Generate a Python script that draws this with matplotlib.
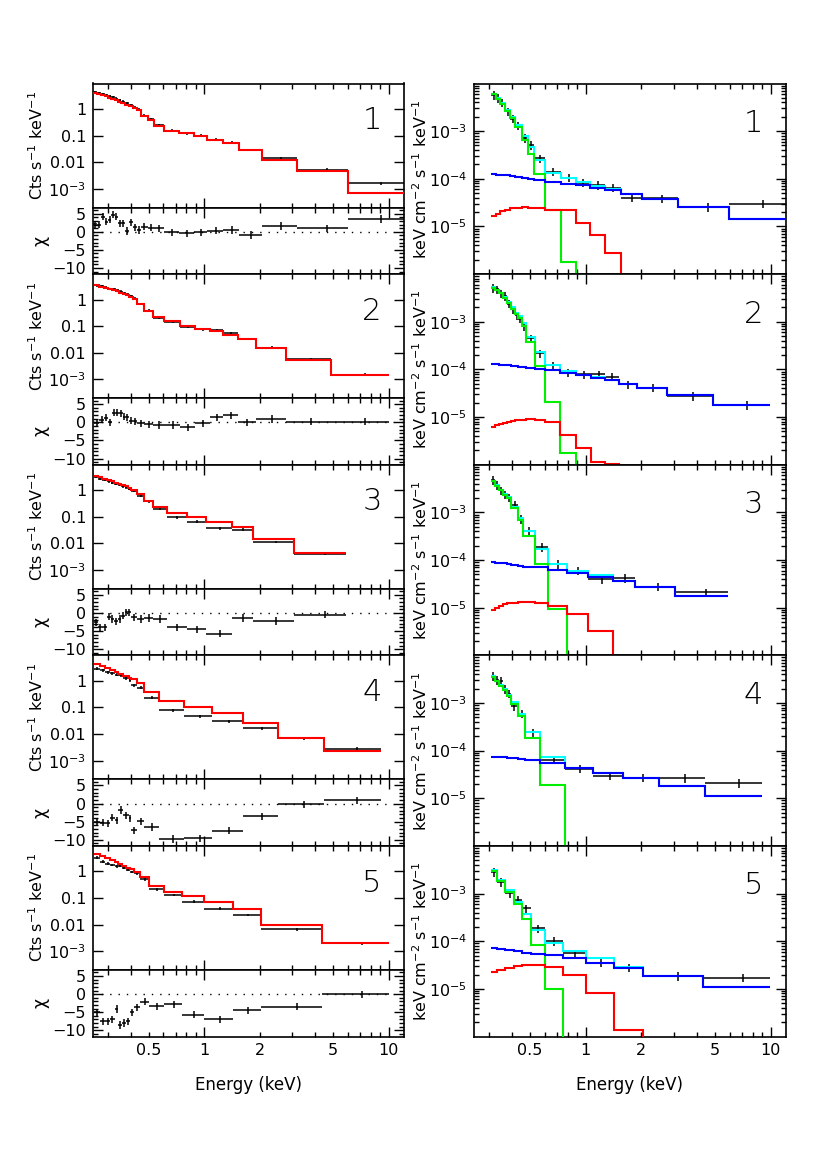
import matplotlib.pyplot as plt
import numpy as np
from matplotlib.ticker import FixedLocator, FuncFormatter, MultipleLocator, LogLocator, NullFormatter

plt.rcParams['font.family'] = 'DejaVu Sans'
plt.rcParams['mathtext.default'] = 'regular'

OFF = 1e-9  # component has dropped out of the plotted range

# ---------------- row 1 ----------------
cts_edges_1 = [0.25, 0.262, 0.275, 0.288, 0.30, 0.313, 0.326, 0.34, 0.355, 0.37, 0.39, 0.41, 0.43,
               0.451, 0.494, 0.532, 0.608, 0.726, 0.883, 1.04, 1.27, 1.55, 2.05, 3.17, 6.03, 12.05]
cts_data_1 = [4.2, 3.9, 3.6, 3.3, 3.0, 2.7, 2.45, 2.15, 1.9, 1.6, 1.38, 1.12, 0.93,
              0.56, 0.42, 0.25, 0.152, 0.123, 0.099, 0.071, 0.054, 0.029, 0.0143, 5.2e-3, 1.6e-3]
cts_model_1 = [3.98, 3.65, 3.25, 2.98, 2.66, 2.37, 2.11, 1.88, 1.67, 1.45, 1.26, 1.05, 0.887,
               0.528, 0.396, 0.235, 0.153, 0.125, 0.099, 0.070, 0.0525, 0.0295, 0.0124, 4.5e-3, 6.9e-4]
chi_1 = [2.1, 2.0, 4.2, 2.8, 3.3, 4.7, 4.2, 2.3, 2.3, 0.2, 2.6, 1.2, 0.5,
         1.4, 1.1, 1.0, -0.2, -0.4, -0.2, 0.3, 0.5, -0.9, 1.6, 0.9, 3.5]
uf_edges_1 = [0.308, 0.327, 0.344, 0.366, 0.39, 0.415, 0.451, 0.49, 0.526, 0.603, 0.733, 0.883,
              1.05, 1.27, 1.55, 2.02, 3.16, 5.97, 12.1]
uf_data_1 = [5.7e-3, 4.9e-3, 3.98e-3, 2.6e-3, 1.82e-3, 1.32e-3, 7.1e-4, 5.1e-4, 2.67e-4, 1.40e-4,
             1.06e-4, 8.3e-5, 7.4e-5, 6.5e-5, 4.0e-5, 3.86e-5, 2.53e-5, 3.03e-5]
uf_total_1 = [6.04e-3, 4.94e-3, 3.94e-3, 2.74e-3, 2.02e-3, 1.35e-3, 7.9e-4, 4.56e-4, 2.44e-4, 1.31e-4,
              1.03e-4, 8.5e-5, 7.2e-5, 6.0e-5, 4.7e-5, 3.68e-5, 2.53e-5, 1.46e-5]
uf_soft_1 = [5.9e-3, 4.8e-3, 3.8e-3, 2.6e-3, 1.88e-3, 1.21e-3, 6.6e-4, 3.3e-4, 1.25e-4, 2.26e-5,
             1.76e-6, OFF, OFF, OFF, OFF, OFF, OFF, OFF]
uf_pl_1 = [1.245e-4, 1.225e-4, 1.205e-4, 1.186e-4, 1.148e-4, 1.11e-4, 1.06e-4, 1.01e-4, 9.45e-5, 8.57e-5,
           7.9e-5, 7.3e-5, 6.5e-5, 5.7e-5, 4.7e-5, 3.68e-5, 2.53e-5, 1.46e-5]
uf_mid_1 = [1.63e-5, 1.86e-5, 2.08e-5, 2.26e-5, 2.41e-5, 2.49e-5, 2.52e-5, 2.49e-5, 2.41e-5, 2.26e-5,
            2.19e-5, 1.18e-5, 6.7e-6, 2.82e-6, OFF, OFF, OFF, OFF]

# ---------------- row 2 ----------------
cts_edges_2 = [0.252, 0.27, 0.285, 0.30, 0.315, 0.33, 0.345, 0.36, 0.375, 0.39, 0.41, 0.43, 0.473,
               0.53, 0.607, 0.738, 0.891, 1.074, 1.268, 1.517, 1.898, 2.76, 4.85, 10.0]
cts_data_2 = [3.4, 3.1, 2.8, 2.5, 2.4, 2.2, 1.95, 1.72, 1.55, 1.3, 1.08, 0.68, 0.38,
              0.21, 0.145, 0.097, 0.078, 0.072, 0.054, 0.0335, 0.0155, 5.7e-3, 1.52e-3]
cts_model_2 = [3.45, 3.07, 2.74, 2.51, 2.24, 2.05, 1.83, 1.63, 1.45, 1.26, 1.06, 0.688, 0.387,
               0.217, 0.150, 0.100, 0.0794, 0.0668, 0.0487, 0.0335, 0.0150, 5.6e-3, 1.5e-3]
chi_2 = [-0.3, 0.7, 1.3, 0.0, 2.7, 2.7, 2.5, 1.6, 1.4, 0.5, 0.3,
         -0.3, -0.5, -0.7, -0.7, -1.4, -0.3, 1.4, 1.9, 0.0, 0.9, 0.2, 0.2]
uf_edges_2 = [0.306, 0.322, 0.339, 0.357, 0.377, 0.396, 0.416, 0.431, 0.453, 0.478, 0.530, 0.605,
              0.730, 0.883, 1.07, 1.276, 1.507, 1.893, 2.75, 4.88, 9.95]
uf_data_2 = [5.08e-3, 4.76e-3, 3.93e-3, 3.46e-3, 2.39e-3, 1.82e-3, 1.36e-3, 1.16e-3, 8.1e-4, 4.47e-4,
             2.17e-4, 1.21e-4, 8.5e-5, 7.85e-5, 7.85e-5, 7.0e-5, 4.84e-5, 4.12e-5, 2.76e-5, 1.79e-5]
uf_total_2 = [5.29e-3, 4.74e-3, 4.06e-3, 3.32e-3, 2.63e-3, 2.0e-3, 1.55e-3, 1.33e-3, 9.3e-4, 4.9e-4,
              2.28e-4, 1.26e-4, 9.1e-5, 7.7e-5, 6.8e-5, 6.0e-5, 4.84e-5, 4.12e-5, 2.85e-5, 1.79e-5]
uf_soft_2 = [5.16e-3, 4.61e-3, 3.93e-3, 3.19e-3, 2.5e-3, 1.88e-3, 1.43e-3, 1.21e-3, 8.1e-4, 3.75e-4,
             1.17e-4, 2.06e-5, 1.73e-6, OFF, OFF, OFF, OFF, OFF, OFF, OFF]
uf_pl_2 = [1.27e-4, 1.27e-4, 1.25e-4, 1.23e-4, 1.21e-4, 1.17e-4, 1.16e-4, 1.14e-4, 1.10e-4, 1.07e-4,
           1.02e-4, 9.7e-5, 8.5e-5, 7.5e-5, 6.7e-5, 5.97e-5, 4.84e-5, 4.12e-5, 2.85e-5, 1.79e-5]
uf_mid_2 = [6.2e-6, 6.7e-6, 7.2e-6, 7.6e-6, 7.98e-6, 8.2e-6, 8.5e-6, 8.65e-6, 8.8e-6, 8.9e-6,
            8.65e-6, 7.85e-6, 4.19e-6, 2.27e-6, 1.16e-6, 1.05e-6, OFF, OFF, OFF, OFF]

# ---------------- row 3 ----------------
cts_edges_3 = [0.253, 0.265, 0.28, 0.295, 0.31, 0.325, 0.34, 0.355, 0.37, 0.385, 0.40, 0.43,
               0.473, 0.53, 0.625, 0.803, 1.02, 1.41, 1.84, 3.07, 5.9]
cts_data_3 = [3.13, 2.72, 2.42, 2.16, 1.93, 1.72, 1.58, 1.41, 1.26, 1.12, 0.945, 0.615,
              0.379, 0.196, 0.096, 0.066, 0.0374, 0.0325, 0.0113, 4.15e-3]
cts_model_3 = [3.52, 3.05, 2.72, 2.42, 2.16, 1.93, 1.72, 1.53, 1.37, 1.19, 1.0, 0.71,
               0.40, 0.226, 0.139, 0.1017, 0.0662, 0.0408, 0.0142, 4.4e-3]
chi_3 = [-2.6, -4.0, -4.0, -1.0, -1.7, -2.3, -1.7, -0.8, 0.2, 0.2, -1.2, -1.7,
         -1.4, -1.7, -4.0, -4.5, -5.7, -1.4, -2.2, -0.5]
uf_edges_3 = [0.306, 0.322, 0.339, 0.357, 0.377, 0.396, 0.431, 0.458, 0.530, 0.626, 0.796, 1.03,
              1.41, 1.84, 3.05, 5.88]
uf_data_3 = [4.72e-3, 3.77e-3, 2.9e-3, 2.35e-3, 2.07e-3, 1.45e-3, 7.24e-4, 4.11e-4, 1.86e-4, 8.18e-5,
             6.0e-5, 3.95e-5, 4.15e-5, 2.77e-5, 2.1e-5]
uf_total_3 = [4.6e-3, 3.75e-3, 3.0e-3, 2.45e-3, 2.09e-3, 1.32e-3, 7.7e-4, 4.0e-4, 1.67e-4, 8.2e-5,
              6.0e-5, 4.8e-5, 3.65e-5, 2.68e-5, 1.79e-5]
uf_soft_3 = [4.5e-3, 3.65e-3, 2.9e-3, 2.35e-3, 2.0e-3, 1.23e-3, 6.8e-4, 3.13e-4, 8.3e-5, 9.2e-6,
             OFF, OFF, OFF, OFF, OFF]
uf_pl_3 = [8.87e-5, 8.73e-5, 8.59e-5, 8.45e-5, 8.18e-5, 7.92e-5, 7.66e-5, 7.29e-5, 7.06e-5, 6.2e-5,
           5.28e-5, 4.5e-5, 3.65e-5, 2.68e-5, 1.79e-5]
uf_mid_3 = [8.93e-6, 1.0e-5, 1.1e-5, 1.17e-5, 1.23e-5, 1.27e-5, 1.32e-5, 1.34e-5, 1.27e-5, 1.1e-5,
            7.36e-6, 3.28e-6, OFF, OFF, OFF]

# ---------------- row 4 ----------------
cts_edges_4 = [0.253, 0.272, 0.29, 0.308, 0.326, 0.342, 0.364, 0.388, 0.401, 0.434, 0.473, 0.569,
               0.78, 1.105, 1.614, 2.50, 4.45, 9.05]
cts_data_4 = [2.82, 2.44, 2.11, 1.88, 1.68, 1.63, 1.22, 1.03, 0.688, 0.546, 0.230, 0.0772,
              0.0473, 0.0307, 0.0163, 6.9e-3, 2.82e-3]
cts_model_4 = [4.1, 3.55, 3.07, 2.59, 2.18, 1.83, 1.50, 1.30, 1.12, 0.79, 0.387, 0.173,
               0.106, 0.0596, 0.0251, 6.9e-3, 2.3e-3]
chi_4 = [-5.1, -5.3, -5.5, -3.9, -4.6, -1.8, -3.3, -4.1, -7.4, -4.9, -6.5, -9.8,
         -9.6, -7.5, -3.5, -0.2, 0.9]
uf_edges_4 = [0.306, 0.322, 0.339, 0.357, 0.377, 0.393, 0.431, 0.472, 0.569, 0.776, 1.094, 1.60,
              2.48, 4.43, 8.97]
uf_data_4 = [3.65e-3, 3.0e-3, 2.9e-3, 1.97e-3, 1.55e-3, 8.5e-4, 5.97e-4, 2.42e-4, 6.4e-5, 4.15e-5,
             2.95e-5, 2.72e-5, 2.64e-5, 2.07e-5]
uf_total_4 = [3.6e-3, 2.93e-3, 2.39e-3, 1.98e-3, 1.5e-3, 1.04e-3, 5.9e-4, 2.45e-4, 7.4e-5, 4.28e-5,
              3.47e-5, 2.64e-5, 1.82e-5, 1.14e-5]
uf_soft_4 = [3.53e-3, 2.86e-3, 2.32e-3, 1.91e-3, 1.43e-3, 9.7e-4, 5.24e-4, 1.83e-4, 1.91e-5,
             OFF, OFF, OFF, OFF, OFF]
uf_pl_4 = [7.42e-5, 7.29e-5, 7.29e-5, 7.18e-5, 7.06e-5, 6.84e-5, 6.62e-5, 6.2e-5, 5.45e-5, 4.28e-5,
           3.47e-5, 2.64e-5, 1.82e-5, 1.14e-5]
uf_mid_4 = None

# ---------------- row 5 ----------------
cts_edges_5 = [0.253, 0.272, 0.29, 0.308, 0.326, 0.342, 0.358, 0.375, 0.395, 0.418, 0.449, 0.504,
               0.607, 0.755, 1.0, 1.425, 2.03, 4.33, 9.98]
cts_data_5 = [3.25, 2.30, 1.94, 1.73, 1.54, 1.62, 1.37, 1.12, 0.944, 0.841, 0.501, 0.211,
              0.130, 0.0729, 0.0398, 0.0230, 6.7e-3, 2.0e-3]
cts_model_5 = [4.34, 3.76, 3.25, 2.74, 2.30, 1.94, 1.63, 1.37, 1.19, 0.97, 0.613, 0.282,
               0.168, 0.119, 0.0729, 0.0376, 9.4e-3, 2.0e-3]
chi_5 = [-5.0, -7.5, -7.5, -7.0, -4.1, -8.5, -8.0, -7.5, -5.0, -3.6, -2.1, -3.4,
         -2.8, -5.7, -7.0, -4.5, -3.5, 0.0]
uf_edges_5 = [0.308, 0.333, 0.366, 0.409, 0.451, 0.505, 0.603, 0.751, 1.0, 1.42, 2.03, 4.29, 9.92]
uf_data_5 = [2.84e-3, 1.75e-3, 1.03e-3, 7.5e-4, 4.86e-4, 1.85e-4, 1.01e-4, 5.57e-5, 3.56e-5, 2.79e-5,
             1.87e-5, 1.73e-5]
uf_total_5 = [3.07e-3, 1.93e-3, 1.17e-3, 6.8e-4, 3.79e-4, 1.68e-4, 9.0e-5, 6.3e-5, 4.37e-5, 2.93e-5,
              1.87e-5, 1.07e-5]
uf_soft_5 = [2.98e-3, 1.84e-3, 1.08e-3, 5.9e-4, 2.9e-4, 8.3e-5, 1.0e-5, OFF, OFF, OFF, OFF, OFF]
uf_pl_5 = [7.08e-5, 6.85e-5, 6.53e-5, 6.12e-5, 5.75e-5, 5.39e-5, 5.14e-5, 4.38e-5, 3.56e-5, 2.79e-5,
           1.87e-5, 1.07e-5]
uf_mid_5 = [2.27e-5, 2.5e-5, 2.79e-5, 3.03e-5, 3.13e-5, 3.13e-5, 2.84e-5, 1.96e-5, 8.1e-6, 1.39e-6,
            OFF, OFF]

rows = [
    (cts_edges_1, cts_data_1, cts_model_1, chi_1, uf_edges_1, uf_data_1, uf_total_1, uf_soft_1, uf_pl_1, uf_mid_1),
    (cts_edges_2, cts_data_2, cts_model_2, chi_2, uf_edges_2, uf_data_2, uf_total_2, uf_soft_2, uf_pl_2, uf_mid_2),
    (cts_edges_3, cts_data_3, cts_model_3, chi_3, uf_edges_3, uf_data_3, uf_total_3, uf_soft_3, uf_pl_3, uf_mid_3),
    (cts_edges_4, cts_data_4, cts_model_4, chi_4, uf_edges_4, uf_data_4, uf_total_4, uf_soft_4, uf_pl_4, uf_mid_4),
    (cts_edges_5, cts_data_5, cts_model_5, chi_5, uf_edges_5, uf_data_5, uf_total_5, uf_soft_5, uf_pl_5, uf_mid_5),
]

# figure geometry in pixels
W, H = 817, 1155
LX, RX, AW = 93, 474, 311
TOP, ROW, SPEC = 83.5, 190.6, 124
FS = 11.5


def add_ax(fig, x, top, w, h):
    return fig.add_axes([x / W, 1 - (top + h) / H, w / W, h / H])


def energy_axis(ax, labels):
    ax.set_xscale('log')
    ax.set_xlim(0.249, 12.1)
    ax.xaxis.set_major_locator(FixedLocator([1, 10]))
    ax.xaxis.set_minor_locator(FixedLocator([0.3, 0.4, 0.5, 0.6, 0.7, 0.8, 0.9, 2, 3, 4, 5, 6, 7, 8, 9]))
    ax.xaxis.set_major_formatter(FuncFormatter(lambda v, p: '%g' % v))
    ax.xaxis.set_minor_formatter(FuncFormatter(lambda v, p: '%g' % v if round(v, 2) in (0.5, 2, 5) else ''))
    ax.tick_params(axis='both', which='both', direction='in', top=True, right=True,
                   labelbottom=labels, labelsize=FS, pad=5, width=1)
    ax.tick_params(which='major', length=7)
    ax.tick_params(which='minor', length=3.5)
    for s in ax.spines.values():
        s.set_linewidth(1.2)
    if labels:
        ax.set_xlabel('Energy (keV)', fontsize=FS + 0.5, labelpad=13)


def crosses(ax, edges, vals, yerr, lw=1.1):
    e = np.asarray(edges)
    lo, hi = e[:-1], e[1:]
    mid = 0.5 * (lo + hi)
    ax.errorbar(mid, vals, xerr=[mid - lo, hi - mid], yerr=yerr, fmt='none',
                ecolor='black', elinewidth=lw, capsize=0, zorder=2)


fig = plt.figure(figsize=(W / 100, H / 100), dpi=100)

for r, (ce, cd, cm, chi, ue, ud, ut, us, up, um) in enumerate(rows):
    top = TOP + r * ROW
    last = r == len(rows) - 1

    # counts spectrum
    ax = add_ax(fig, LX, top, AW, SPEC)
    energy_axis(ax, False)
    ax.set_yscale('log')
    ax.set_ylim(2e-4, 9)
    cd = np.asarray(cd)
    crosses(ax, ce, cd, 0.12 * cd)
    ax.stairs(cm, ce, color='red', lw=1.5, baseline=None, zorder=3)
    ax.yaxis.set_major_locator(FixedLocator([1e-3, 1e-2, 0.1, 1]))
    ax.yaxis.set_major_formatter(FuncFormatter(
        lambda v, p: {1e-3: '$10^{-3}$', 1e-2: '0.01', 0.1: '0.1', 1: '1'}.get(v, '')))
    ax.yaxis.set_minor_locator(LogLocator(base=10, subs=np.arange(2, 10)))
    ax.yaxis.set_minor_formatter(NullFormatter())
    ax.set_ylabel('Cts s$^{-1}$ keV$^{-1}$', fontsize=FS)
    ax.yaxis.set_label_coords(-0.15, 0.5)
    ax.text(0.897, 0.70, str(r + 1), transform=ax.transAxes, fontsize=22,
            fontweight='light', ha='center', va='center')

    # residuals
    ax = add_ax(fig, LX, top + SPEC, AW, ROW - SPEC)
    energy_axis(ax, last)
    ax.set_ylim(-11.7, 6.7)
    crosses(ax, ce, chi, 1.0)
    ax.axhline(0, color='black', lw=1, ls=(0, (1, 5)), zorder=1)
    ax.yaxis.set_major_locator(FixedLocator([-10, -5, 0, 5]))
    ax.yaxis.set_major_formatter(FuncFormatter(lambda v, p: '%d' % v if v >= 0 else '\u2212%d' % -v))
    ax.yaxis.set_minor_locator(MultipleLocator(1))
    ax.set_ylabel('\u03c7', fontsize=FS + 1)
    ax.yaxis.set_label_coords(-0.14, 0.5)

    # unfolded spectrum with model components
    ax = add_ax(fig, RX, top, AW + 1, ROW)
    energy_axis(ax, last)
    ax.set_yscale('log')
    ax.set_ylim(1e-6, 1e-2)
    ud = np.asarray(ud)
    crosses(ax, ue, ud, 0.2 * ud)
    ax.stairs(ut, ue, color='cyan', lw=1.5, baseline=None, zorder=3)
    ax.stairs(us, ue, color='#00ee00', lw=1.5, baseline=None, zorder=4)
    if um is not None:
        ax.stairs(um, ue, color='red', lw=1.5, baseline=None, zorder=4)
    ax.stairs(up, ue, color='blue', lw=1.5, baseline=None, zorder=5)
    ax.yaxis.set_major_locator(FixedLocator([1e-5, 1e-4, 1e-3]))
    ax.yaxis.set_major_formatter(FuncFormatter(lambda v, p: '$10^{%d}$' % round(np.log10(v))))
    ax.yaxis.set_minor_locator(LogLocator(base=10, subs=np.arange(2, 10)))
    ax.yaxis.set_minor_formatter(NullFormatter())
    ax.set_ylabel('keV cm$^{-2}$ s$^{-1}$ keV$^{-1}$', fontsize=FS)
    ax.yaxis.set_label_coords(-0.142, 0.5)
    ax.text(0.895, 0.79, str(r + 1), transform=ax.transAxes, fontsize=22,
            fontweight='light', ha='center', va='center')

fig.savefig('out.png', dpi=100)
